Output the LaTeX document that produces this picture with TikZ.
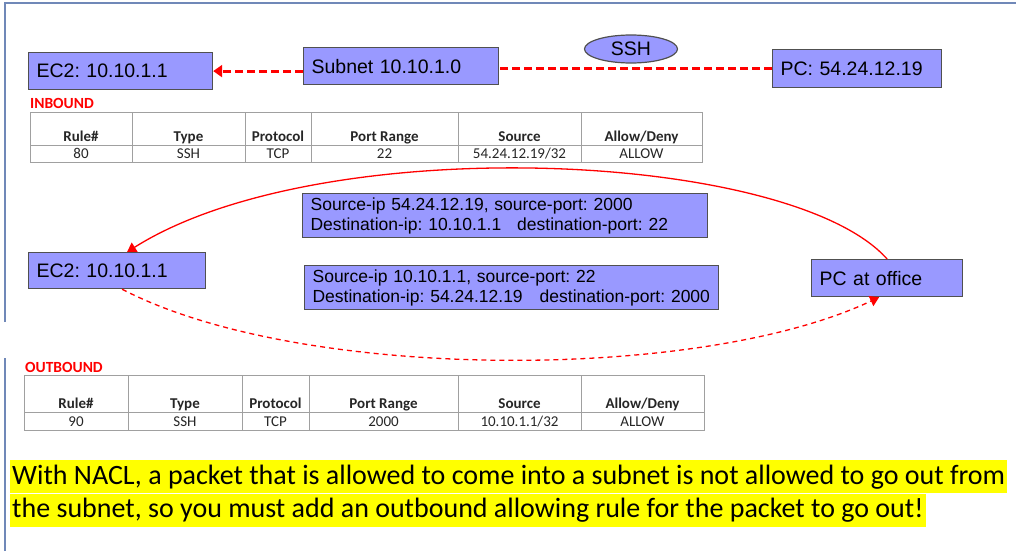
\documentclass[tikz,border=0pt]{standalone}
\usepackage{fontspec}
\setmainfont{Liberation Sans}
\newfontfamily\calfont{Carlito}
\usetikzlibrary{shapes.geometric,arrows.meta}
\definecolor{boxblue}{HTML}{9999FF}
\definecolor{boxline}{HTML}{505050}
\definecolor{framecol}{HTML}{7088B8}
\definecolor{gridcol}{HTML}{A0A0A0}
\definecolor{hlyellow}{HTML}{FFFF00}
\frenchspacing
\begin{document}
\begin{tikzpicture}[x=1pt, y=-1pt,
    box/.style={draw=boxline, line width=1.2pt, fill=boxblue, anchor=north west, inner xsep=8pt, inner ysep=0pt, align=left, font=\fontsize{19.5}{22}\selectfont},
    pkt/.style={box, font=\fontsize{17.5}{20}\selectfont},
    grid/.style={draw=gridcol, line width=1pt},
    cellhead/.style={anchor=base, inner sep=0pt, font=\calfont\bfseries\fontsize{15}{17}\selectfont, text=black!85},
    cell/.style={anchor=base, inner sep=0pt, font=\calfont\fontsize{15}{17}\selectfont, text=black!85},
    tag/.style={anchor=base west, inner sep=0pt, text=red, font=\calfont\bfseries\fontsize{15.5}{17}\selectfont},
    thickdash/.style={draw=red, line width=3pt, dash pattern=on 8pt off 4pt},
    flow/.style={draw=red, line width=1.3pt, -{Triangle[width=11pt,length=9pt]}},
    hl/.style={anchor=base west, fill=hlyellow, inner xsep=2pt, inner ysep=0pt, text height=24pt, text depth=9pt, font=\calfont\fontsize{28}{33}\selectfont}]
    \useasboundingbox (0,0) rectangle (1016,551);
    \draw[framecol, line width=1.2pt] (5,551) -- (5,358) (5,322) -- (5,3) -- (1016,3);

    % request path
    \node[box, text width=168pt, minimum height=37pt] (ec2top) at (28,52) {EC2: 10.10.1.1};
    \node[box, text width=179pt, minimum height=37pt] (subnet) at (303,47) {Subnet 10.10.1.0};
    \node[box, text width=153pt, minimum height=38pt] (pchome) at (772,49) {PC: 54.24.12.19};
    \node[ellipse, draw=boxline, line width=1.2pt, fill=boxblue, minimum width=93pt, minimum height=28pt, inner sep=0pt, font=\fontsize{19.5}{22}\selectfont] (ssh) at (631,49) {SSH};
    \draw[thickdash, -{Triangle[width=12pt,length=9pt]}] (subnet.west |- ec2top.east) -- (ec2top.east);
    \draw[thickdash] (pchome.west) -- (subnet.east |- pchome.west);

    \node[tag] (inlabel) at (30,108) {INBOUND};
    \foreach \xa/\xb/\hd/\dv [count=\i] in {30/132/Rule\#/80, 132/245/Type/SSH, 245/311/Protocol/TCP, 311/458/Port Range/22, 458/581/Source/{54.24.12.19/32}, 581/702/{Allow/Deny}/ALLOW} {
        \draw[grid] (\xa,112) rectangle (\xb,162) (\xa,145) -- (\xb,145);
        \node[cellhead] (inh\i) at ({(\xa+\xb)/2},141) {\hd};
        \node[cell] (ind\i) at ({(\xa+\xb)/2},158.5) {\dv};
    }

    % round trip
    \node[pkt, text width=389pt, minimum height=44pt] (pktin) at (302,193)
        {Source-ip 54.24.12.19, source-port: 2000\\Destination-ip: 10.10.1.1\hspace{16pt}destination-port: 22};
    \node[pkt, text width=398pt, minimum height=44pt] (pktout) at (304,265)
        {Source-ip 10.10.1.1, source-port: 22\\Destination-ip: 54.24.12.19\hspace{17pt}destination-port: 2000};
    \node[box, text width=161pt, minimum height=36pt] (ec2mid) at (28,252) {EC2: 10.10.1.1};
    \node[box, text width=135pt, minimum height=37pt] (pcoffice) at (811,259) {PC at office};
    \draw[flow] (pcoffice.north) .. controls (790,150) and (320,130) .. ([xshift=10pt]ec2mid.north);
    \draw[flow, dash pattern=on 5pt off 4pt] ([xshift=5pt]ec2mid.south) .. controls (300,382) and (700,382) .. ([xshift=-8pt]pcoffice.south);

    \node[tag] (outlabel) at (25,372) {OUTBOUND};
    \foreach \xa/\xb/\hd/\dv [count=\i] in {24/128/Rule\#/90, 128/242/Type/SSH, 242/309/Protocol/TCP, 309/458/Port Range/2000, 458/581/Source/{10.10.1.1/32}, 581/704/{Allow/Deny}/ALLOW} {
        \draw[grid] (\xa,375) rectangle (\xb,430) (\xa,412) -- (\xb,412);
        \node[cellhead] (outh\i) at ({(\xa+\xb)/2},408) {\hd};
        \node[cell] (outd\i) at ({(\xa+\xb)/2},426.5) {\dv};
    }

    \node[hl] (note1) at (10,484) {With NACL, a packet that is allowed to come into a subnet is not allowed to go out from};
    \node[hl] (note2) at (10,517.5) {the subnet, so you must add an outbound allowing rule for the packet to go out!};
\end{tikzpicture}
\end{document}
